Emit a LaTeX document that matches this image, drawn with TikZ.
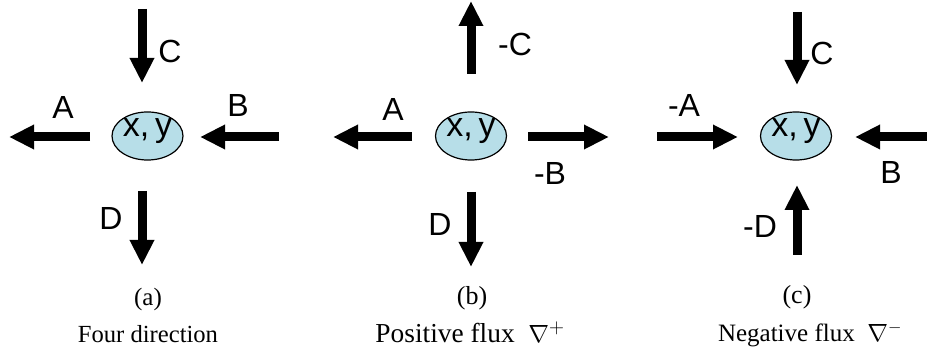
\documentclass[tikz,border=0pt]{standalone}
\usepackage{fontspec}
\setmainfont{Liberation Serif}
\newfontfamily\arialfont{Liberation Sans}
\usetikzlibrary{arrows.meta,shapes.geometric}
\definecolor{cellblue}{RGB}{183,222,232}

\begin{document}
\begin{tikzpicture}[x=1pt,y=-1pt,
    every node/.style={inner sep=0pt},
    cell/.style={ellipse,draw,line width=1.2pt,fill=cellblue,minimum width=71pt,
      minimum height=45pt,text depth=16pt,font=\arialfont\fontsize{34}{34}\selectfont},
    flux/.style={line width=9pt,-{Triangle[width=23pt,length=25pt]}},
    lab/.style={font=\arialfont\fontsize{32}{32}\selectfont},
    captext/.style={anchor=base}]
  \useasboundingbox (0,0) rectangle (927,355);
  % (a) four direction
  \node[cell] (pa) at (147.5,136) {x,\,y};
  \coordinate (aC1) at (142,9);   \coordinate (aC2) at (142,83);
  \coordinate (aA1) at (90,137);  \coordinate (aA2) at (9,137);
  \coordinate (aB1) at (279,137); \coordinate (aB2) at (200,137);
  \coordinate (aD1) at (142,191); \coordinate (aD2) at (142,265);
  \node[lab] (laC) at (170,51) {C};
  \node[lab] (laA) at (63,107) {A};
  \node[lab] (laB) at (238,105) {B};
  \node[lab] (laD) at (111,218) {D};
  \node[captext,font=\fontsize{25}{25}\selectfont] (ca) at (148,306) {(a)};
  \node[captext,font=\fontsize{24.6}{26}\selectfont] (ta) at (148,343) {Four direction};
  % (b) positive flux
  \node[cell] (pb) at (471,136) {x,\,y};
  \coordinate (bC1) at (471,74);  \coordinate (bC2) at (471,1);
  \coordinate (bA1) at (412,137); \coordinate (bA2) at (333,137);
  \coordinate (bB1) at (528,137); \coordinate (bB2) at (609,137);
  \coordinate (bD1) at (471,192); \coordinate (bD2) at (471,267);
  \node[lab] (lbC) at (515,44) {-C};
  \node[lab] (lbA) at (393,109) {A};
  \node[lab] (lbB) at (550,173) {-B};
  \node[lab] (lbD) at (440,224) {D};
  \node[captext,font=\fontsize{26}{26}\selectfont] (cb) at (472,305) {(b)};
  \node[captext,font=\fontsize{27.4}{28}\selectfont] (tb) at (470,343) {Positive flux\enspace$\nabla^{+}$};
  % (c) negative flux
  \node[cell] (pc) at (796,136) {x,\,y};
  \coordinate (cC1) at (797,12);  \coordinate (cC2) at (797,85);
  \coordinate (cA1) at (657,137); \coordinate (cA2) at (738,137);
  \coordinate (cB1) at (927,137); \coordinate (cB2) at (855,137);
  \coordinate (cD1) at (797,255); \coordinate (cD2) at (797,185);
  \node[lab] (lcC) at (822,53) {C};
  \node[lab] (lcA) at (684,105) {-A};
  \node[lab] (lcB) at (891,172) {B};
  \node[lab] (lcD) at (760,226) {-D};
  \node[captext,font=\fontsize{26}{26}\selectfont] (cc) at (797,304) {(c)};
  \node[captext,font=\fontsize{25}{26}\selectfont] (tc) at (810,342) {Negative flux\enspace$\nabla^{-}$};
  \foreach \p in {a,b,c}
    \foreach \d in {A,B,C,D}
      \draw[flux] (\p\d1) -- (\p\d2);
\end{tikzpicture}
\end{document}
